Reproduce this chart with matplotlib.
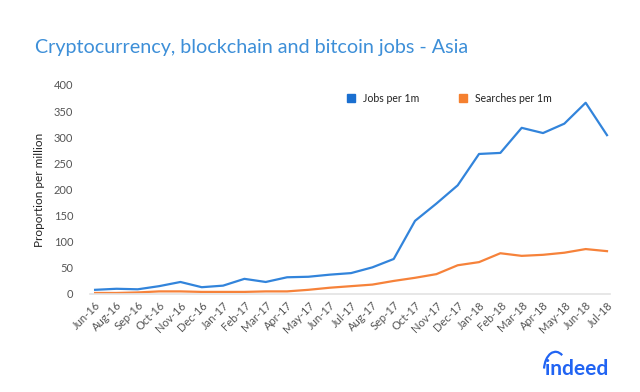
import matplotlib
matplotlib.use("Agg")
import matplotlib.pyplot as plt
from matplotlib.lines import Line2D
from matplotlib.patches import Arc

months = ["Jun-16", "Aug-16", "Sep-16", "Oct-16", "Nov-16", "Dec-16", "Jan-17", "Feb-17",
          "Mar-17", "Apr-17", "May-17", "Jun-17", "Jul-17", "Aug-17", "Sep-17", "Oct-17",
          "Nov-17", "Dec-17", "Jan-18", "Feb-18", "Mar-18", "Apr-18", "May-18", "Jun-18", "Jul-18"]
jobs = [8, 10, 9, 15, 23, 13, 16, 29, 23, 32, 33, 37, 40, 51, 67, 140, 173, 208, 268, 270,
        318, 308, 326, 366, 304]
searches = [2, 2, 3, 5, 5, 4, 4, 4, 5, 5, 8, 12, 15, 18, 25, 31, 38, 55, 61, 78,
            73, 75, 79, 86, 82]

BLUE = "#3284db"
ORANGE = "#f6823a"
plt.rcParams['font.family'] = ['Lato', 'DejaVu Sans']

fig = plt.figure(figsize=(6.4, 3.92), dpi=100)
ax = fig.add_axes([0.1406, 0.25, 0.8125, 0.5332])
x = list(range(len(months)))
ax.plot(x, jobs, color=BLUE, lw=1.6, label="Jobs per 1m")
ax.plot(x, searches, color=ORANGE, lw=1.6, label="Searches per 1m")

ax.set_xlim(-0.24, 24.14)
ax.set_ylim(0, 400)
ax.set_yticks(range(0, 401, 50))
ax.set_xticks(x)
ax.set_xticklabels(months, rotation=45, ha="right", rotation_mode="anchor")
for s in ["top", "right", "left"]:
    ax.spines[s].set_visible(False)
ax.spines["bottom"].set_color("#e3e3e3")
ax.spines["bottom"].set_linewidth(1.2)
ax.tick_params(axis="both", length=0, colors="#555555", labelsize=8)
ax.tick_params(axis="y", pad=12)
ax.tick_params(axis="x", pad=4)
ax.set_ylabel("Proportion per million", fontsize=8.5, color="#222222", labelpad=6)

handles = [Line2D([], [], marker="s", ls="none", color="#1a6fd0", markersize=6),
           Line2D([], [], marker="s", ls="none", color="#f5802f", markersize=6)]
ax.legend(handles, ["Jobs per 1m", "Searches per 1m"], ncol=2, frameon=False,
          loc="center", bbox_to_anchor=(0.685, 0.935), fontsize=7.6, handletextpad=0.1,
          columnspacing=3.2, labelcolor="#222222")

fig.text(0.055, 0.88, "Cryptocurrency, blockchain and bitcoin jobs - Asia",
         fontsize=14.2, color="#3d8fd8", va="center", ha="left")

fig.text(0.951, 0.058, "indeed", fontsize=15, fontweight="bold", color="#2164f3",
         ha="right", va="center")
arc = Arc((0.868, 0.055), 0.036, 0.095, theta1=75, theta2=165, color="#2164f3", lw=1.6,
          transform=fig.transFigure)
fig.add_artist(arc)

fig.savefig("out.png", dpi=100, facecolor="white")
